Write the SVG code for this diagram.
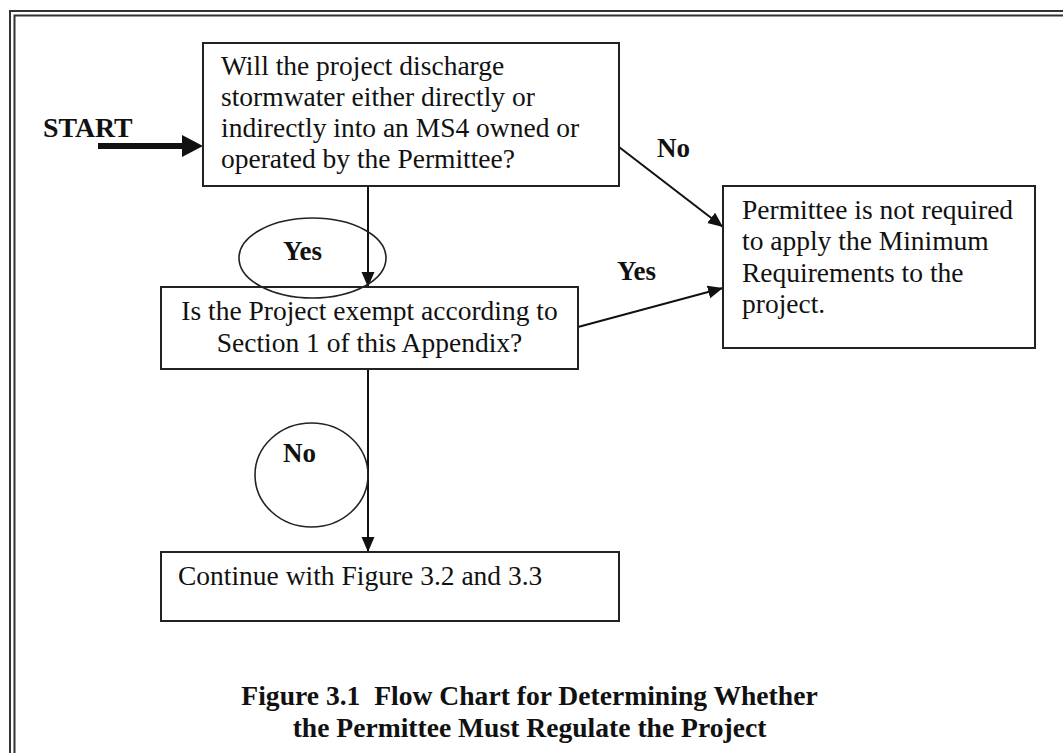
<svg xmlns="http://www.w3.org/2000/svg" width="1063" height="753" viewBox="0 0 1063 753">
<style>
.box{fill:#fff;stroke:#222;stroke-width:2}
.t{font-family:"Liberation Serif","Times New Roman",serif;font-size:27.5px;fill:#111}
.b{font-family:"Liberation Serif","Times New Roman",serif;font-size:27px;font-weight:bold;fill:#111}
.cap{font-size:27.6px}
.c{text-anchor:middle}
.conn{stroke:#111;stroke-width:2;fill:none}
.ell{fill:none;stroke:#222;stroke-width:1.6}
.frame{stroke:#333;stroke-width:2;fill:none}
</style>
<defs>
<marker id="ah" markerUnits="userSpaceOnUse" markerWidth="16" markerHeight="14" refX="15" refY="6.5" orient="auto">
<path d="M0,0 L15,6.5 L0,13 z" fill="#111"/>
</marker>
</defs>
<rect width="1063" height="753" fill="#fff"/>
<g id="frame">
<path class="frame" d="M10,753 V11 H1063"/>
<path class="frame" d="M14.5,753 V15.5 H1063"/>
</g>
<g id="start">
<text class="b" x="43" y="137" style="font-size:27.8px">START</text>
</g>
<g id="connectors">
<line x1="98" y1="146" x2="184" y2="146" stroke="#111" stroke-width="6"/>
<polygon points="182,135 203,146 182,157" fill="#111"/>
<line class="conn" x1="368" y1="186" x2="368" y2="287" marker-end="url(#ah)"/>
<line class="conn" x1="368" y1="369" x2="368" y2="552" marker-end="url(#ah)"/>
<line class="conn" x1="619" y1="147" x2="723" y2="227" marker-end="url(#ah)"/>
<line class="conn" x1="578" y1="327" x2="723" y2="288" marker-end="url(#ah)"/>
</g>
<g id="q1">
<rect class="box" x="203" y="43" width="416" height="143"/>
<text class="t" x="221" y="75">Will the project discharge</text>
<text class="t" x="221" y="106">stormwater either directly or</text>
<text class="t" x="221" y="137">indirectly into an MS4 owned or</text>
<text class="t" x="221" y="168">operated by the Permittee?</text>
</g>
<g id="notreq">
<rect class="box" x="723" y="186" width="312" height="162"/>
<text class="t" x="742" y="219">Permittee is not required</text>
<text class="t" x="742" y="250">to apply the Minimum</text>
<text class="t" x="742" y="282">Requirements to the</text>
<text class="t" x="742" y="313">project.</text>
</g>
<g id="q2">
<rect class="box" x="161" y="287" width="417" height="82"/>
<text class="t c" x="369.5" y="320">Is the Project exempt according to</text>
<text class="t c" x="369.5" y="352">Section 1 of this Appendix?</text>
</g>
<g id="cont">
<rect class="box" x="161" y="552" width="458" height="69"/>
<text class="t" x="178" y="585">Continue with Figure 3.2 and 3.3</text>
</g>
<g id="yes1">
<ellipse class="ell" cx="312.5" cy="258" rx="73.5" ry="40"/>
<text class="b" x="283" y="260">Yes</text>
</g>
<g id="no1">
<ellipse class="ell" cx="311.5" cy="475" rx="56.5" ry="52"/>
<text class="b" x="283" y="462">No</text>
</g>
<g id="labels">
<text class="b" x="657" y="157">No</text>
<text class="b" x="617" y="280">Yes</text>
</g>
<g id="caption">
<text class="b cap c" x="529.5" y="705" style="white-space:pre">Figure 3.1  Flow Chart for Determining Whether</text>
<text class="b cap c" x="529.5" y="737">the Permittee Must Regulate the Project</text>
</g>
</svg>
